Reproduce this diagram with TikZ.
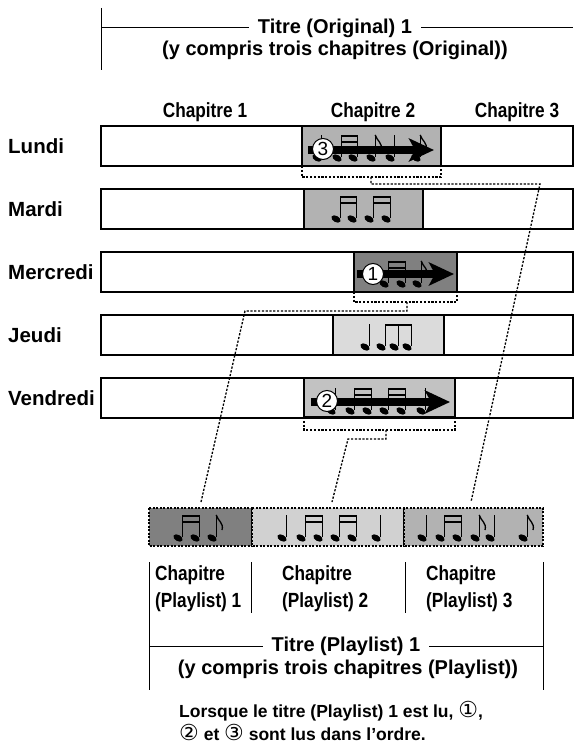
\documentclass[tikz,border=0pt]{standalone}
\usepackage{fontspec}
\setmainfont{Liberation Sans}
\newfontfamily\narrowfont[FakeStretch=0.84]{Liberation Sans}
\newfontfamily\symfont{DejaVu Sans}
\usetikzlibrary{arrows.meta}
\definecolor{midgray}{gray}{0.70}
\definecolor{dkgray}{gray}{0.50}
\definecolor{ltgray}{gray}{0.86}
\definecolor{vdgray}{gray}{0.76}
\definecolor{plgray}{gray}{0.82}
% notes: head at (x,y)
\newcommand{\qnote}[2]{%
  \fill[rotate around={-30:(#1,#2)}] (#1,#2) ellipse (5 and 3.1);
  \draw[line width=1.4pt] (#1+4.2,#2-1) -- (#1+4.2,#2-23);}
\newcommand{\enote}[2]{\qnote{#1}{#2}
  \draw[line width=1.3pt] (#1+4.2,#2-23) .. controls (#1+6,#2-17) and (#1+12,#2-15) .. (#1+10,#2-8);}
\newcommand{\snpair}[3]{\qnote{#1}{#3}\qnote{#2}{#3}
  \draw[line width=2pt] (#1+4.2,#3-22) -- (#2+4.2,#3-22);
  \draw[line width=1.4pt] (#1+4.2,#3-16) -- (#2+4.2,#3-16);}
\newcommand{\etrio}[4]{\qnote{#1}{#4}\qnote{#2}{#4}\qnote{#3}{#4}
  \draw[line width=2pt] (#1+4.2,#4-22) -- (#3+4.2,#4-22);}
\newcommand{\circnum}[1]{{\symfont\mdseries\fontsize{22}{22}\selectfont #1}}
\begin{document}
\begin{tikzpicture}[x=1pt,y=-1pt,
    lbl/.style={font=\bfseries\fontsize{20.5}{20.5}\selectfont, anchor=west, inner sep=0pt},
    chap/.style={font=\narrowfont\bfseries\fontsize{20.5}{27}\selectfont, inner sep=0pt},
    ttl/.style={font=\bfseries\fontsize{20}{20}\selectfont, inner xsep=9pt, inner ysep=0pt},
    bar/.style={draw, line width=1.1pt, fill=white},
    hl/.style={draw, line width=2pt},
    pl/.style={draw, line width=1.2pt, dash pattern=on 2pt off 1.5pt},
    dots/.style={line width=1.3pt, dash pattern=on 2.2pt off 1.6pt},
    play/.style={line width=8pt, -{Stealth[length=25pt,width=23pt,inset=6pt]}},
    numc/.style={circle, draw, fill=white, line width=1pt, minimum size=21pt, inner sep=0pt, font=\fontsize{19}{19}\selectfont}]
    \useasboundingbox (0,0) rectangle (579,754);

    % titre original
    \node[ttl] (tor) at (335,28) {Titre (Original) 1};
    \node[ttl] (tor2) at (335,50) {(y compris trois chapitres (Original))};
    \coordinate (tl) at (101,28);
    \coordinate (tr) at (573,28);
    \draw[line width=1pt] (101,8) -- (101,70);
    \draw[line width=1pt] (tl) -- (tor.west) (tor.east) -- (tr);

    \foreach \x/\n in {205/1, 373/2, 517/3}
    \node[chap] (ch\n) at (\x,112) {Chapitre \n};

    \foreach \y/\d in {146/Lundi, 209/Mardi, 272/Mercredi, 335/Jeudi, 398/Vendredi} {
    \draw[bar] (101,\y-20) rectangle (573,\y+20);
    \node[lbl] (\d) at (8,\y) {\d};
    }

    \draw[hl, fill=midgray] (302,126) rectangle (441,166);
    \draw[hl, fill=midgray] (304,189) rectangle (423,229);
    \draw[hl, fill=dkgray] (354,252) rectangle (457,292);
    \draw[hl, fill=ltgray] (333,315) rectangle (444,355);
    \draw[hl, fill=vdgray] (304,378) rectangle (455,417);

    \qnote{317}{158} \snpair{337}{353}{158} \enote{371}{158} \qnote{390}{158} \enote{416}{158}
    \snpair{336}{352}{219} \snpair{369}{386}{219}
    \snpair{384}{401}{284} \enote{417}{284}
    \qnote{365}{347} \etrio{381}{394}{407}{347}
    \qnote{331}{411} \snpair{350}{367}{411} \snpair{384}{401}{411} \qnote{421}{411}

    % lecture
    \coordinate (a3) at (308,150); \coordinate (b3) at (434,150);
    \coordinate (a1) at (357,274); \coordinate (b1) at (454,274);
    \coordinate (a2) at (311,402); \coordinate (b2) at (450,402);
    \draw[play] (a3) -- (b3);
    \draw[play] (a1) -- (b1);
    \draw[play] (a2) -- (b2);
    \node[numc] (n3) at (323,149) {3};
    \node[numc] (n1) at (373,274) {1};
    \node[numc] (n2) at (327,401) {2};

    % playlist
    \draw[pl, fill=dkgray] (149,508) rectangle (252,546);
    \draw[pl, fill=plgray] (252,508) rectangle (404,546);
    \draw[pl, fill=midgray] (404,508) rectangle (543,546);
    \snpair{178}{195}{538} \enote{212}{538}
    \qnote{282}{538} \snpair{301}{318}{538} \snpair{335}{352}{538} \qnote{376}{538}
    \qnote{422}{538} \snpair{440}{457}{538} \enote{475}{538} \qnote{490}{538} \enote{523}{538}

    \coordinate (p1) at (201,502);
    \coordinate (p2) at (332,502);
    \coordinate (p3) at (471,502);
    \draw[dots] (302,166) -- (302,177) -- (441,177) -- (441,166);
    \draw[dots] (371,177) -- (371,184) -- (540,184) -- (p3);
    \draw[dots] (354,292) -- (354,302) -- (457,302) -- (457,292);
    \draw[dots] (407,302) -- (407,311) -- (245,311) -- (p1);
    \draw[dots] (304,417) -- (304,430) -- (455,430) -- (455,417);
    \draw[dots] (386,430) -- (386,439) -- (348,439) -- (p2);

    \foreach \x/\n in {155/1, 282/2, 426/3}
    \node[chap, anchor=north west, align=left] (pc\n) at (\x,565) {Chapitre\\(Playlist) \n};
    \draw[line width=1pt] (149,562) -- (149,690);
    \draw[line width=1pt] (251,562) -- (251,613);
    \draw[line width=1pt] (405,562) -- (405,613);
    \draw[line width=1pt] (543,562) -- (543,690);

    \node[ttl] (tpl) at (346,646) {Titre (Playlist) 1};
    \node[ttl] (tpl2) at (348,669) {(y compris trois chapitres (Playlist))};
    \coordinate (bl) at (149,646);
    \coordinate (br) at (543,646);
    \draw[line width=1pt] (bl) -- (tpl.west) (tpl.east) -- (br);

    \node[anchor=west, align=left, inner sep=0pt, font=\bfseries\fontsize{17.5}{23}\selectfont] (lire) at (179,721)
    {Lorsque le titre (Playlist) 1 est lu, \circnum{①},\\
    \circnum{②} et \circnum{③} sont lus dans l’ordre.};
\end{tikzpicture}
\end{document}
